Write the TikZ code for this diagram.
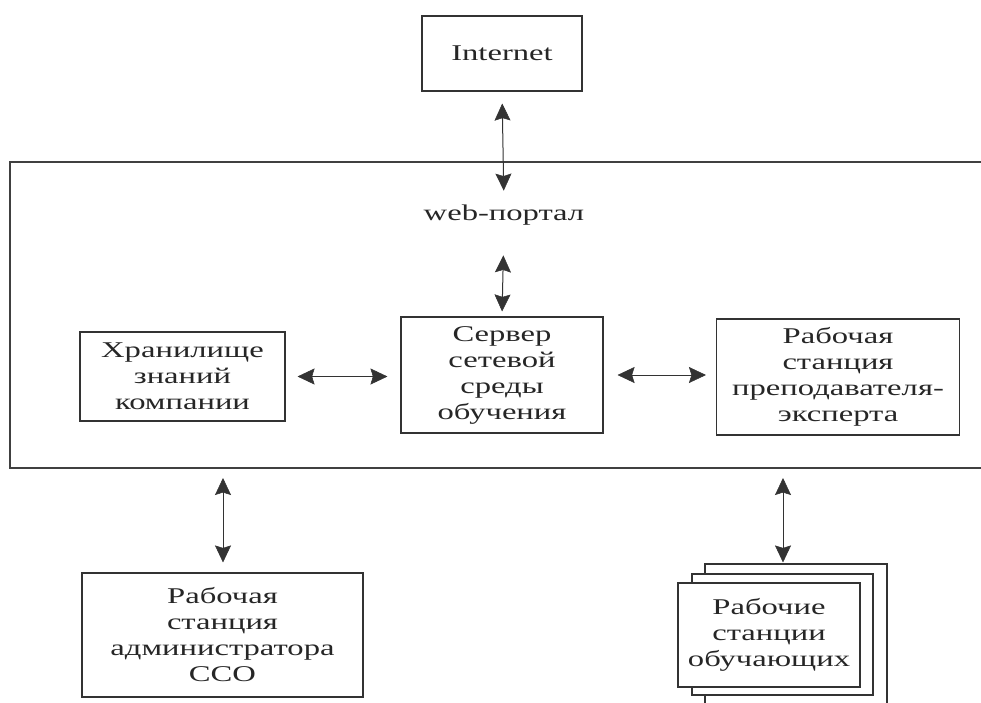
\documentclass[tikz,border=0pt]{standalone}
\usepackage{fontspec}
\setmainfont{Liberation Serif}[FakeStretch=1.45]
\usetikzlibrary{arrows.meta}
\begin{document}
\begin{tikzpicture}[x=1pt,y=-1pt,
  box/.style={draw=black!80, line width=1.1pt, align=center, inner sep=0pt,
    text=black!85, font=\fontsize{22.5}{26}\selectfont},
  lbl/.style={inner sep=0pt, text=black!85, font=\fontsize{22.5}{26}\selectfont},
  frame/.style={draw=black!75, line width=1.3pt},
  arr/.style={draw=black!80, line width=1pt,
    {Stealth[length=17pt,width=16pt,inset=2.5pt,line width=0.5pt]}-{Stealth[length=17pt,width=16pt,inset=2.5pt,line width=0.5pt]}}]
  \clip (0,0) rectangle (981,702);
  \fill[white] (0,0) rectangle (981,702);

  % system frame (runs past the right edge)
  \draw[frame] (995,162) -- (10,162) -- (10,468) -- (995,468);
  \coordinate (fbl) at (223,468);
  \coordinate (fbr) at (783,468);

  % nodes
  \node[box, minimum width=160pt, minimum height=75pt] (inet) at (502,53.5) {Internet};
  \node[lbl] (portal) at (504,215) {web-портал};
  \node[box, minimum width=202pt, minimum height=116pt] (server) at (502,375)
    {Сервер\\сетевой\\среды\\обучения};
  \node[box, minimum width=205pt, minimum height=89pt] (store) at (182.5,376.5)
    {Хранилище\\знаний\\компании};
  \node[box, minimum width=243pt, minimum height=116pt] (expert) at (838,377)
    {Рабочая\\станция\\преподавателя-\\эксперта};
  \node[box, minimum width=281pt, minimum height=124pt] (admin) at (222.5,635)
    {Рабочая\\станция\\администратора\\ССО};

  % stacked learner workstations
  \node[box, fill=white, minimum width=182pt, minimum height=160pt] (back) at (796,644) {};
  \node[box, fill=white, minimum width=181pt, minimum height=121pt] (mid) at (782.5,634.5) {};
  \node[box, fill=white, minimum width=182pt, minimum height=104pt] (learn) at (769,635)
    {Рабочие\\станции\\обучающих};

  % connectors
  \draw[arr, shorten <=12pt, shorten >=14pt] (inet.south) -- (portal.north);
  \draw[arr, shorten <=30pt, shorten >=5pt] (portal.south) -- (server.north);
  \draw[arr, shorten <=12pt, shorten >=13pt] (store.east) -- (store.east -| server.west);
  \draw[arr, shorten <=14pt, shorten >=10pt] (server.east) -- (server.east -| expert.west);
  \draw[arr, shorten <=10pt, shorten >=10pt] (fbl) -- (fbl |- admin.north);
  \draw[arr, shorten <=10pt, shorten >=1pt] (fbr) -- (fbr |- back.north);
\end{tikzpicture}
\end{document}
